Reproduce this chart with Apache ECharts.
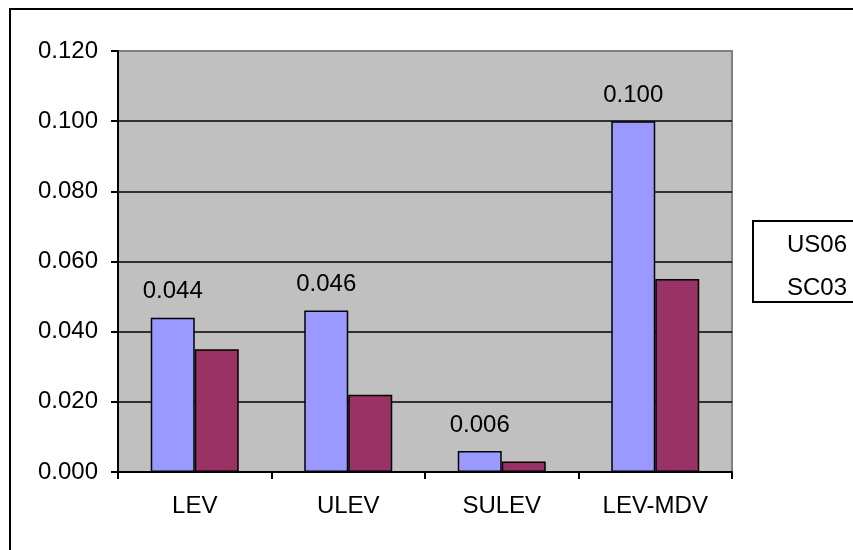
<!DOCTYPE html>
<html>
<head>
<meta charset="utf-8">
<script src="https://cdn.jsdelivr.net/npm/echarts@6/dist/echarts.min.js"></script>
<style>
  html, body { margin: 0; padding: 0; background: #fff; }
  #chart { width: 853px; height: 550px; }
</style>
</head>
<body>
<div id="chart"></div>
<script>
// 排放测试：US06 / SC03 各车型等级
const categories = ["LEV", "ULEV", "SULEV", "LEV-MDV"];
const us06 = [0.044, 0.046, 0.006, 0.100];
const sc03 = [0.035, 0.022, 0.003, 0.055];
const yTicks = { min: 0, max: 0.12, interval: 0.02 };

const FONT = '"Liberation Sans", Arial, sans-serif';
const FS = 24;
const chart = echarts.init(document.getElementById("chart"));

chart.setOption({
  animation: false,
  textStyle: { fontFamily: FONT },
  grid: {
    left: 118, right: 121, top: 51, bottom: 78,
    show: true, backgroundColor: "#c0c0c0", borderColor: "#808080", borderWidth: 2
  },
  legend: {
    orient: "vertical", left: 753, top: 221,
    padding: [11, 6, 6, 28],
    icon: "rect", itemWidth: 0, itemHeight: 24, itemGap: 17,
    itemStyle: { opacity: 0 },
    textStyle: { fontSize: FS, color: "#000", fontFamily: FONT, lineHeight: 24 },
    data: ["US06", "SC03"]
  },
  xAxis: {
    type: "category", data: categories,
    axisLine: { lineStyle: { color: "#000", width: 2 } },
    axisTick: { show: true, length: 7, lineStyle: { color: "#000", width: 2 } },
    axisLabel: { fontSize: FS, color: "#000", margin: 22, fontFamily: FONT }
  },
  yAxis: {
    type: "value", min: yTicks.min, max: yTicks.max, interval: yTicks.interval,
    axisLine: { show: true, lineStyle: { color: "#000", width: 2 } },
    axisTick: { show: true, length: 7, lineStyle: { color: "#000", width: 2 } },
    axisLabel: { fontSize: FS, color: "#000", margin: 20, fontFamily: FONT,
                 formatter: v => v.toFixed(3) },
    splitLine: { show: true, lineStyle: { color: ["#000", "#000", "#000", "#000", "#000", "#000", "#808080"], width: 1.5 } }
  },
  series: [
    {
      name: "US06", type: "bar", data: us06, barWidth: 44, barGap: "0%",
      itemStyle: { color: "#9999ff", borderColor: "#000", borderWidth: 1.5 },
      label: { show: true, position: "top", distance: 14, fontSize: FS, color: "#000",
               fontFamily: FONT, formatter: p => p.value.toFixed(3) }
    },
    {
      name: "SC03", type: "bar", data: sc03, barWidth: 44, barGap: "0%",
      itemStyle: { color: "#993366", borderColor: "#000", borderWidth: 1.5 }
    }
  ],
  graphic: [
    { // 图表外框（右、下被裁掉）
      type: "rect", z: 100,
      shape: { x: 10, y: 9, width: 900, height: 600 },
      style: { fill: null, stroke: "#000", lineWidth: 2 }
    },
    { // 图例框，延伸出画面右侧
      type: "rect", z: 100,
      shape: { x: 753, y: 221, width: 200, height: 81 },
      style: { fill: null, stroke: "#000", lineWidth: 2 }
    }
  ]
});
</script>
</body>
</html>
